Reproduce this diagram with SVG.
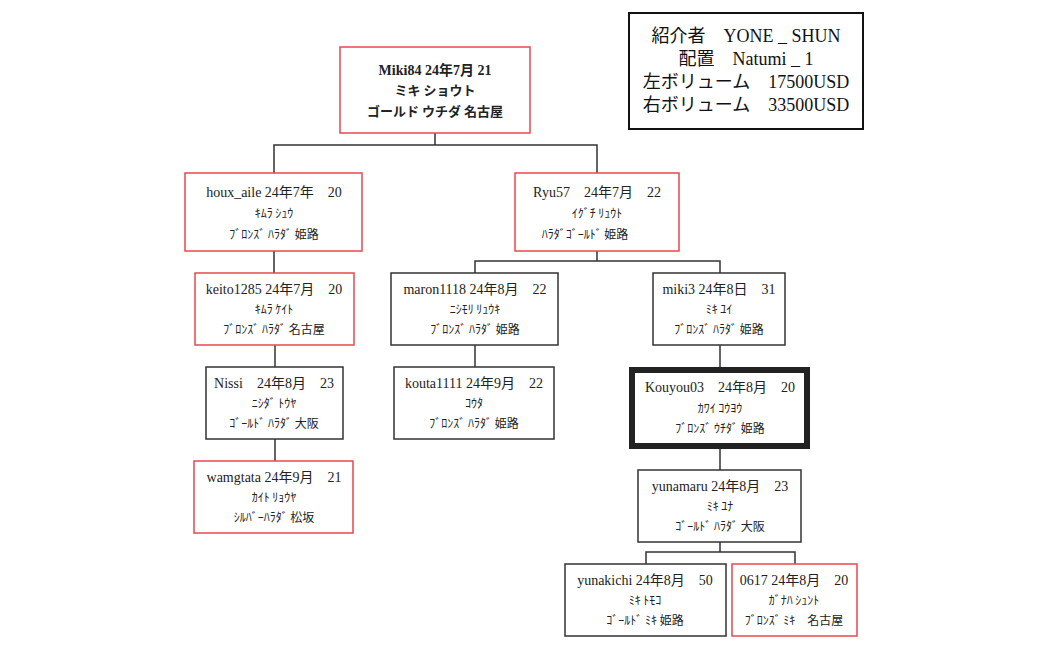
<svg xmlns="http://www.w3.org/2000/svg" width="1049" height="650" viewBox="0 0 1049 650">
<style>
.n{fill:#fff;stroke:#333;stroke-width:1.5}
.r{fill:#fff;stroke:#e8474d;stroke-width:1.5}
.t{font-family:"Liberation Serif","Noto Sans CJK JP",serif;font-size:14px;fill:#222;text-anchor:middle}
.k{font-family:"Noto Sans CJK JP",sans-serif;font-size:12px;fill:#222;text-anchor:middle}
.b{font-weight:bold}
.i{font-family:"Liberation Serif","Noto Sans CJK JP",serif;font-size:18px;fill:#111;text-anchor:middle}
.c{fill:none;stroke:#333;stroke-width:1.5}
</style>
<rect width="1049" height="650" fill="#fff"/>
<g id="connectors">
<path class="c" d="M435 133V145M274 173V145H597V173"/>
<path class="c" d="M274 251V273M275 345V367M275 439V461"/>
<path class="c" d="M597 251V261M475 273V261H720V273M475 345V367M720 345V369M720 447V470"/>
<path class="c" d="M720 542V552M646 564V552H795V564"/>
</g>
<g id="info"><rect x="629" y="13" width="234" height="116" fill="#fff" stroke="#111" stroke-width="2"/>
<text class="i" x="746" y="42">紹介者　YONE _ SHUN</text>
<text class="i" x="746" y="65">配置　Natumi _ 1</text>
<text class="i" x="746" y="88">左ボリューム　17500USD</text>
<text class="i" x="746" y="111">右ボリューム　33500USD</text></g>
<g id="root"><rect class="r" x="340" y="47" width="190" height="86"/>
<text class="t b" x="435" y="75">Miki84 24年7月 21</text>
<text class="t b" x="435" y="95" style="font-family:'Noto Sans CJK JP',sans-serif;font-size:13px">ミキ ショウト</text>
<text class="t b" x="435" y="116" style="font-family:'Noto Sans CJK JP',sans-serif;font-size:13px">ゴールド ウチダ 名古屋</text></g>
<g id="houx"><rect class="r" x="185" y="173" width="177" height="78"/>
<text class="t" x="274" y="197">houx_aile 24年7年　20</text>
<text class="k" x="274" y="218">ｷﾑﾗ ｼｭｳ</text>
<text class="k" x="274" y="239">ﾌﾞﾛﾝｽﾞ ﾊﾗﾀﾞ 姫路</text></g>
<g id="ryu"><rect class="r" x="515" y="173" width="164" height="78"/>
<text class="t" x="597" y="197">Ryu57　24年7月　22</text>
<text class="k" x="597" y="218">ｲｸﾞﾁ ﾘｭｳﾄ</text>
<text class="k" x="585" y="239">ﾊﾗﾀﾞｺﾞｰﾙﾄﾞ 姫路</text></g>
<g id="keito"><rect class="r" x="195" y="273" width="159" height="72"/>
<text class="t" x="274" y="294">keito1285 24年7月　20</text>
<text class="k" x="274" y="314">ｷﾑﾗ ｹｲﾄ</text>
<text class="k" x="274" y="334">ﾌﾞﾛﾝｽﾞ ﾊﾗﾀﾞ 名古屋</text></g>
<g id="maron"><rect class="n" x="391" y="273" width="167" height="72"/>
<text class="t" x="475" y="294">maron1118 24年8月　22</text>
<text class="k" x="475" y="314">ﾆｼﾓﾘ ﾘｭｳｷ</text>
<text class="k" x="475" y="334">ﾌﾞﾛﾝｽﾞ ﾊﾗﾀﾞ 姫路</text></g>
<g id="miki3"><rect class="n" x="653" y="273" width="132" height="72"/>
<text class="t" x="719" y="294">miki3 24年8日　31</text>
<text class="k" x="719" y="314">ﾐｷ ﾕｲ</text>
<text class="k" x="719" y="334">ﾌﾞﾛﾝｽﾞ ﾊﾗﾀﾞ 姫路</text></g>
<g id="nissi"><rect class="n" x="206" y="367" width="137" height="72"/>
<text class="t" x="274" y="388">Nissi　24年8月　23</text>
<text class="k" x="274" y="408">ﾆｼﾀﾞ ﾄｳﾔ</text>
<text class="k" x="274" y="428">ｺﾞｰﾙﾄﾞ ﾊﾗﾀﾞ 大阪</text></g>
<g id="kouta"><rect class="n" x="394" y="367" width="160" height="72"/>
<text class="t" x="474" y="388">kouta1111 24年9月　22</text>
<text class="k" x="474" y="408">ｺｳﾀ</text>
<text class="k" x="474" y="428">ﾌﾞﾛﾝｽﾞ ﾊﾗﾀﾞ 姫路</text></g>
<g id="kouyou"><rect x="632" y="370" width="175" height="76" fill="#fff" stroke="#222" stroke-width="6"/>
<text class="t" x="720" y="392">Kouyou03　24年8月　20</text>
<text class="k" x="720" y="413">ｶﾜｲ ｺｳﾖｳ</text>
<text class="k" x="720" y="433">ﾌﾞﾛﾝｽﾞ ｳﾁﾀﾞ 姫路</text></g>
<g id="wamgtata"><rect class="r" x="194" y="461" width="159" height="72"/>
<text class="t" x="274" y="482">wamgtata 24年9月　21</text>
<text class="k" x="274" y="502">ｶｲﾄ ﾘｮｳﾔ</text>
<text class="k" x="274" y="522">ｼﾙﾊﾞｰﾊﾗﾀﾞ 松坂</text></g>
<g id="yunamaru"><rect class="n" x="638" y="470" width="163" height="72"/>
<text class="t" x="720" y="491">yunamaru 24年8月　23</text>
<text class="k" x="720" y="511">ﾐｷ ﾕﾅ</text>
<text class="k" x="720" y="531">ｺﾞｰﾙﾄﾞ ﾊﾗﾀﾞ 大阪</text></g>
<g id="yunakichi"><rect class="n" x="565" y="564" width="161" height="72"/>
<text class="t" x="645" y="585">yunakichi 24年8月　50</text>
<text class="k" x="645" y="605">ﾐｷ ﾄﾓｺ</text>
<text class="k" x="645" y="625">ｺﾞｰﾙﾄﾞ ﾐｷ 姫路</text></g>
<g id="n0617"><rect class="r" x="732" y="564" width="125" height="72"/>
<text class="t" x="794" y="585">0617 24年8月　20</text>
<text class="k" x="794" y="605">ｶﾞﾅﾊ ｼｭﾝﾄ</text>
<text class="k" x="794" y="625">ﾌﾞﾛﾝｽﾞ ﾐｷ　名古屋</text></g>
</svg>
